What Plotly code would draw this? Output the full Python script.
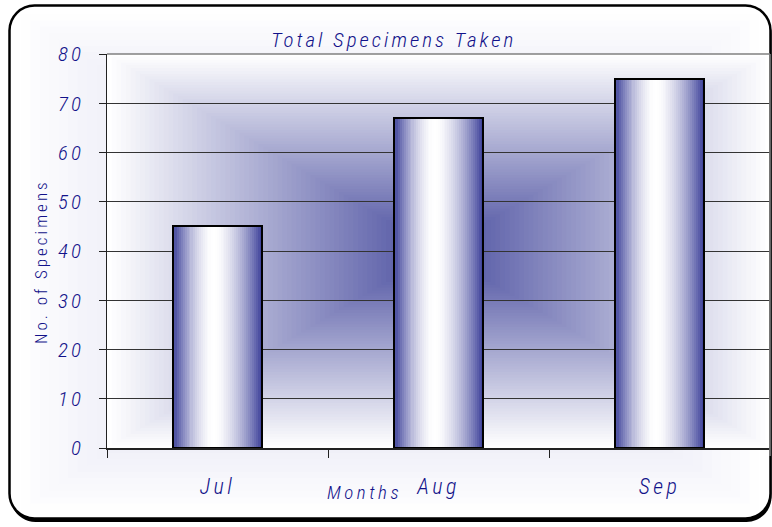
import plotly.graph_objects as go

# ---- data ----
months = ["Jul", "Aug", "Sep"]
specimens = [45, 67, 75]
y_ticks = [0, 10, 20, 30, 40, 50, 60, 70, 80]

chart_title = "Total Specimens Taken"
x_title = "Months"
y_title = "No. of Specimens"

# ---- geometry / style ----
W, H = 772, 527
L, R, T, B = 107, 2, 54, 79
PW = W - L - R
PH = H - T - B
BASE = H - B

FONT = "Roboto Condensed, DejaVu Sans Condensed, Liberation Sans, sans-serif"
TXT = "#12128a"
BAR_BLUE = (58, 62, 152)
PLOT_BLUE = (72, 76, 158)
OUTER_TINT = (195, 195, 228)
BAR_W = 0.407


def px(x):
    return (x - L) / PW


def py(y):
    return (BASE - y) / PH


def spaced(s, sp):
    return f"<span style='letter-spacing:{sp}px'>{s}</span>"


def lerp_col(c, f):
    r = [round(255 + (c[i] - 255) * f) for i in range(3)]
    return f"rgb({r[0]},{r[1]},{r[2]})"


def rrect_path(x0, y0, x1, y1, r):
    k = 0.45
    pts = [
        f"M {px(x0 + r)},{py(y0)}",
        f"L {px(x1 - r)},{py(y0)}",
        f"C {px(x1 - r * k)},{py(y0)} {px(x1)},{py(y0 + r * k)} {px(x1)},{py(y0 + r)}",
        f"L {px(x1)},{py(y1 - r)}",
        f"C {px(x1)},{py(y1 - r * k)} {px(x1 - r * k)},{py(y1)} {px(x1 - r)},{py(y1)}",
        f"L {px(x0 + r)},{py(y1)}",
        f"C {px(x0 + r * k)},{py(y1)} {px(x0)},{py(y1 - r * k)} {px(x0)},{py(y1 - r)}",
        f"L {px(x0)},{py(y0 + r)}",
        f"C {px(x0)},{py(y0 + r * k)} {px(x0 + r * k)},{py(y0)} {px(x0 + r)},{py(y0)}",
        "Z",
    ]
    return " ".join(pts)


fig = go.Figure()

# gradient bars built from vertical stripes
N = 45
for i in range(N):
    t = (i + 0.5) / N
    c = 0.45
    d = (c - t) / c if t < c else (t - c) / (1 - c)
    f = d ** 1.7
    fig.add_bar(
        x=months, y=specimens,
        width=BAR_W / N, offset=-BAR_W / 2 + i * BAR_W / N,
        marker=dict(color=lerp_col(BAR_BLUE, f), line=dict(width=0)),
        hoverinfo="skip", showlegend=False,
    )
fig.add_bar(
    x=months, y=specimens, width=BAR_W,
    marker=dict(color="rgba(0,0,0,0)", line=dict(color="black", width=2)),
    hoverinfo="skip", showlegend=False,
)

shapes = []
FX0, FY0, FX1, FY1, FR = 9.5, 5.5, 770.5, 518.5, 25
# shadow + frame fill
shapes.append(dict(type="path", xref="paper", yref="paper", layer="below",
                   path=rrect_path(FX0 + 1, FY0 + 3, FX1 + 1, FY1 + 3.5, FR),
                   fillcolor="black", line=dict(width=0)))
shapes.append(dict(type="path", xref="paper", yref="paper", layer="below",
                   path=rrect_path(FX0, FY0, FX1, FY1, FR),
                   fillcolor="white", line=dict(width=0)))
# outer faint rectangular gradient
cx, cy = (FX0 + FX1) / 2, (FY0 + FY1) / 2
hw, hh = (FX1 - FX0) / 2 - 2, (FY1 - FY0) / 2 - 2
M = 40
for k in range(1, M):
    s = 1 - k / M
    shapes.append(dict(type="rect", xref="paper", yref="paper", layer="below",
                       x0=px(cx - hw * s), x1=px(cx + hw * s),
                       y0=py(cy + hh * s), y1=py(cy - hh * s),
                       fillcolor=lerp_col(OUTER_TINT, k / M), line=dict(width=0)))
# plot area rectangular gradient
M2 = 70
for k in range(M2):
    s = 1 - k / M2
    shapes.append(dict(type="rect", xref="paper", yref="paper", layer="below",
                       x0=0.5 - 0.5 * s, x1=0.5 + 0.5 * s,
                       y0=0.5 - 0.5 * s, y1=0.5 + 0.5 * s,
                       fillcolor=lerp_col(PLOT_BLUE, k / M2), line=dict(width=0)))
# frame border
shapes.append(dict(type="path", xref="paper", yref="paper", layer="above",
                   path=rrect_path(FX0, FY0, FX1, FY1, FR),
                   fillcolor="rgba(0,0,0,0)", line=dict(color="black", width=2.5)))
# right and top plot border
shapes.append(dict(type="line", xref="paper", yref="paper", x0=1, x1=1, y0=py(456), y1=1,
                   line=dict(color="#888888", width=1.5), layer="above"))
shapes.append(dict(type="line", xref="paper", yref="paper", x0=0, x1=1, y0=1, y1=1,
                   line=dict(color="#808080", width=1.5), layer="above"))

annotations = [
    dict(text=spaced(chart_title, 3), xref="paper", yref="paper",
         x=px(393), y=py(40), xanchor="center", yanchor="middle", showarrow=False,
         font=dict(family=FONT, size=21, color=TXT, style="italic", weight=300)),
    dict(text=spaced(x_title, 3.5), xref="paper", yref="paper",
         x=px(364), y=py(492), xanchor="center", yanchor="middle", showarrow=False,
         font=dict(family=FONT, size=19, color=TXT, style="italic", weight=300)),
    dict(text=spaced(y_title, 3), xref="paper", yref="paper", textangle=-90,
         x=px(41), y=py(262), xanchor="center", yanchor="middle", showarrow=False,
         font=dict(family=FONT, size=17, color=TXT, weight=300)),
]

fig.update_layout(
    width=W, height=H,
    margin=dict(l=L, r=R, t=T, b=B, pad=0),
    paper_bgcolor="white", plot_bgcolor="rgba(0,0,0,0)",
    barmode="overlay", bargap=0,
    shapes=shapes, annotations=annotations,
    showlegend=False,
)
fig.update_xaxes(
    type="category", range=[-0.5, 2.5],
    tickmode="array", tickvals=months, ticktext=[spaced(m, 3.5) for m in months],
    tickson="boundaries", ticks="outside", ticklen=8, tickcolor="#222222", tickwidth=1,
    showline=True, linecolor="#222222", linewidth=1.5, showgrid=False,
    ticklabelstandoff=18,
    tickfont=dict(family=FONT, size=22, color=TXT, style="italic", weight=300),
)
fig.update_yaxes(
    range=[0, 80], tickmode="array", tickvals=y_ticks,
    ticktext=[spaced(str(v), 3) for v in y_ticks],
    ticks="outside", ticklen=7, tickcolor="#222222", tickwidth=1,
    showline=True, linecolor="#222222", linewidth=1, mirror=False,
    showgrid=True, gridcolor="#333333", gridwidth=1, zeroline=False,
    ticklabelstandoff=11,
    tickfont=dict(family=FONT, size=21, color=TXT, style="italic", weight=300),
)

fig.write_html("out.html", config={"displayModeBar": False},
               post_script="document.body.style.margin='0px';")
